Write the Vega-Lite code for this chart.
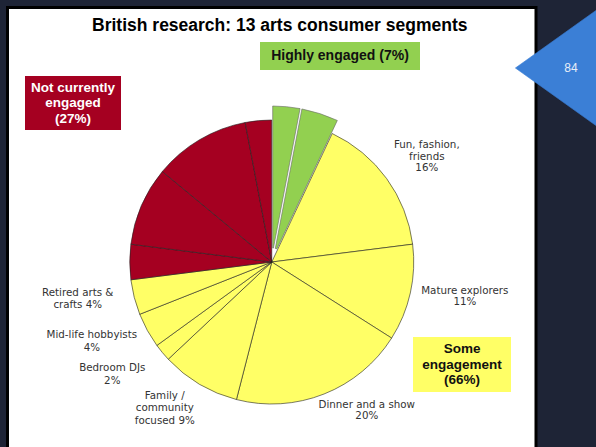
{
  "$schema": "https://vega.github.io/schema/vega-lite/v6.json",
  "width": 596,
  "height": 447,
  "autosize": {"type": "fit", "contains": "padding"},
  "padding": {"left": 7.5, "top": 7.5, "right": 60, "bottom": -69.5},
  "background": "#1e2436",
  "view": {"fill": "white", "stroke": "#000000", "strokeWidth": 3},
  "title": {
    "text": "British research: 13 arts consumer segments",
    "font": "Liberation Sans",
    "fontSize": 17.5,
    "fontWeight": "bold",
    "color": "#000000",
    "anchor": "middle",
    "frame": "group",
    "dx": 8,
    "offset": -41,
    "baseline": "alphabetic"
  },
  "config": {
    "view": {"fill": "white", "stroke": "#000000", "strokeWidth": 3},
    "legend": {"padding": 0, "symbolStrokeWidth": 0, "symbolOpacity": 1, "labelLimit": 400}
  },
  "data": {
    "values": [
      {"id": 1, "segment": "Highly engaged A", "group": "Highly engaged", "pct": 3, "label": ""},
      {"id": 2, "segment": "Highly engaged B", "group": "Highly engaged", "pct": 4, "label": ""},
      {"id": 3, "segment": "Fun, fashion, friends", "group": "Some engagement", "pct": 16, "label": "Fun, fashion,\nfriends\n16%"},
      {"id": 4, "segment": "Mature explorers", "group": "Some engagement", "pct": 11, "label": "Mature explorers\n11%"},
      {"id": 5, "segment": "Dinner and a show", "group": "Some engagement", "pct": 20, "label": "Dinner and a show\n20%"},
      {"id": 6, "segment": "Family / community focused", "group": "Some engagement", "pct": 9, "label": "Family /\ncommunity\nfocused  9%"},
      {"id": 7, "segment": "Bedroom DJs", "group": "Some engagement", "pct": 2, "label": "Bedroom DJs\n2%"},
      {"id": 8, "segment": "Mid-life hobbyists", "group": "Some engagement", "pct": 4, "label": "Mid-life hobbyists\n4%"},
      {"id": 9, "segment": "Retired arts & crafts", "group": "Some engagement", "pct": 4, "label": "Retired arts &\ncrafts  4%"},
      {"id": 10, "segment": "Not currently engaged A", "group": "Not currently engaged", "pct": 4, "label": ""},
      {"id": 11, "segment": "Not currently engaged B", "group": "Not currently engaged", "pct": 9, "label": ""},
      {"id": 12, "segment": "Not currently engaged C", "group": "Not currently engaged", "pct": 11, "label": ""},
      {"id": 13, "segment": "Not currently engaged D", "group": "Not currently engaged", "pct": 3, "label": ""}
    ]
  },
  "layer": [
    {
      "mark": {"type": "arc", "radius": 142, "stroke": "#222222", "strokeWidth": 0.6},
      "encoding": {
        "theta": {"field": "pct", "type": "quantitative", "stack": true},
        "order": {"field": "id", "type": "quantitative"},
        "color": {
          "field": "group", "type": "nominal",
          "scale": {"domain": ["Highly engaged", "Some engagement", "Not currently engaged"], "range": ["#92d050", "#ffff66", "#a50021"]},
          "legend": {
            "orient": "none", "legendX": 252.5, "legendY": -31.5, "title": null,
            "values": ["Highly engaged"],
            "symbolType": "M-1,-0.175H1V0.175H-1Z", "symbolSize": 25600,
            "labelExpr": "'Highly engaged (7%)'",
            "labelAlign": "center", "labelOffset": -80,
            "labelFont": "Liberation Sans", "labelFontSize": 14, "labelFontWeight": "bold", "labelColor": "#111111"
          }
        },
        "opacity": {
          "field": "group", "type": "nominal",
          "scale": {"domain": ["Highly engaged", "Not currently engaged", "Some engagement"], "range": [1, 1]},
          "legend": {
            "orient": "none", "legendX": 17.5, "legendY": 32, "title": null,
            "values": ["Not currently engaged"],
            "symbolType": "M-1,-0.24H1V0.886H-1Z", "symbolSize": 9216,
            "symbolFillColor": "#a50021", "symbolStrokeColor": "#a50021",
            "labelExpr": "['Not currently', 'engaged', '(27%)']",
            "labelAlign": "center", "labelOffset": -48,
            "labelFont": "Liberation Sans", "labelFontSize": 13.5, "labelFontWeight": "bold", "labelColor": "#ffffff"
          }
        },
        "stroke": {
          "field": "group", "type": "nominal",
          "scale": {"domain": ["Some engagement", "Highly engaged", "Not currently engaged"], "range": ["#222222", "#222222", "#222222"]},
          "legend": {
            "orient": "none", "legendX": 405.5, "legendY": 292.5, "title": null,
            "values": ["Some engagement"],
            "symbolType": "M-1,-0.245H1V0.878H-1Z", "symbolSize": 9604,
            "symbolFillColor": "#ffff66", "symbolStrokeWidth": 0,
            "labelExpr": "['Some', 'engagement', '(66%)']",
            "labelAlign": "center", "labelOffset": -49,
            "labelFont": "Liberation Sans", "labelFontSize": 13.5, "labelFontWeight": "bold", "labelColor": "#111111"
          }
        },
        "strokeWidth": {
          "field": "group", "type": "nominal",
          "scale": {"domain": ["Not currently engaged", "Some engagement", "Highly engaged"], "range": [0.6, 0.6]},
          "legend": {
            "orient": "none", "legendX": 490, "legendY": 2, "title": null,
            "values": ["Highly engaged"],
            "symbolType": "M-0.7,0L0.7,-1L0.7,1Z", "symbolSize": 13456,
            "symbolFillColor": "#3b7fd6", "symbolStrokeColor": "#3b7fd6",
            "labelExpr": "'84'",
            "labelAlign": "center", "labelOffset": -43.5,
            "labelFont": "Liberation Sans", "labelFontSize": 12, "labelColor": "#e8eef8"
          }
        },
        "fillOpacity": {"condition": {"test": "datum.group === 'Highly engaged'", "value": 0}, "value": 1},
        "strokeOpacity": {"condition": {"test": "datum.group === 'Highly engaged'", "value": 0}, "value": 1}
      }
    },
    {
      "mark": {"type": "arc", "radius": 156, "radius2": 14, "padAngle": 0.012, "color": "#92d050", "stroke": "#666666", "strokeWidth": 0.6},
      "encoding": {
        "theta": {"field": "pct", "type": "quantitative", "stack": true},
        "order": {"field": "id", "type": "quantitative"},
        "opacity": {"condition": {"test": "datum.group === 'Highly engaged'", "value": 1}, "value": 0}
      }
    },
    {
      "mark": {"type": "text", "radius": 194.2, "thetaOffset": -0.018, "font": "DejaVu Sans", "fontSize": 10.3, "color": "#333333", "lineBreak": "\n", "lineHeight": 11.5, "align": "center", "baseline": "middle"},
      "encoding": {
        "theta": {"field": "pct", "type": "quantitative", "stack": true},
        "order": {"field": "id", "type": "quantitative"},
        "text": {"condition": {"test": "datum.segment === 'Fun, fashion, friends'", "field": "label", "type": "nominal"}, "value": ""}
      }
    },
    {
      "mark": {"type": "text", "radius": 195.2, "thetaOffset": -0.072, "font": "DejaVu Sans", "fontSize": 10.3, "color": "#333333", "lineBreak": "\n", "lineHeight": 11.5, "align": "center", "baseline": "middle"},
      "encoding": {
        "theta": {"field": "pct", "type": "quantitative", "stack": true},
        "order": {"field": "id", "type": "quantitative"},
        "text": {"condition": {"test": "datum.segment === 'Mature explorers'", "field": "label", "type": "nominal"}, "value": ""}
      }
    },
    {
      "mark": {"type": "text", "radius": 171.3, "thetaOffset": -0.211, "font": "DejaVu Sans", "fontSize": 10.3, "color": "#333333", "lineBreak": "\n", "lineHeight": 11.5, "align": "center", "baseline": "middle"},
      "encoding": {
        "theta": {"field": "pct", "type": "quantitative", "stack": true},
        "order": {"field": "id", "type": "quantitative"},
        "text": {"condition": {"test": "datum.segment === 'Dinner and a show'", "field": "label", "type": "nominal"}, "value": ""}
      }
    },
    {
      "mark": {"type": "text", "radius": 171.2, "thetaOffset": 0.141, "font": "DejaVu Sans", "fontSize": 10.3, "color": "#333333", "lineBreak": "\n", "lineHeight": 12.5, "align": "center", "baseline": "middle"},
      "encoding": {
        "theta": {"field": "pct", "type": "quantitative", "stack": true},
        "order": {"field": "id", "type": "quantitative"},
        "text": {"condition": {"test": "datum.segment === 'Family / community focused'", "field": "label", "type": "nominal"}, "value": ""}
      }
    },
    {
      "mark": {"type": "text", "radius": 191.7, "thetaOffset": 0.103, "font": "DejaVu Sans", "fontSize": 10.3, "color": "#333333", "lineBreak": "\n", "lineHeight": 12.5, "align": "center", "baseline": "middle"},
      "encoding": {
        "theta": {"field": "pct", "type": "quantitative", "stack": true},
        "order": {"field": "id", "type": "quantitative"},
        "text": {"condition": {"test": "datum.segment === 'Bedroom DJs'", "field": "label", "type": "nominal"}, "value": ""}
      }
    },
    {
      "mark": {"type": "text", "radius": 194.2, "thetaOffset": 0.117, "font": "DejaVu Sans", "fontSize": 10.3, "color": "#333333", "lineBreak": "\n", "lineHeight": 12.5, "align": "center", "baseline": "middle"},
      "encoding": {
        "theta": {"field": "pct", "type": "quantitative", "stack": true},
        "order": {"field": "id", "type": "quantitative"},
        "text": {"condition": {"test": "datum.segment === 'Mid-life hobbyists'", "field": "label", "type": "nominal"}, "value": ""}
      }
    },
    {
      "mark": {"type": "text", "radius": 196.5, "thetaOffset": 0.093, "font": "DejaVu Sans", "fontSize": 10.3, "color": "#333333", "lineBreak": "\n", "lineHeight": 12.5, "align": "center", "baseline": "middle"},
      "encoding": {
        "theta": {"field": "pct", "type": "quantitative", "stack": true},
        "order": {"field": "id", "type": "quantitative"},
        "text": {"condition": {"test": "datum.segment === 'Retired arts & crafts'", "field": "label", "type": "nominal"}, "value": ""}
      }
    }
  ]
}
